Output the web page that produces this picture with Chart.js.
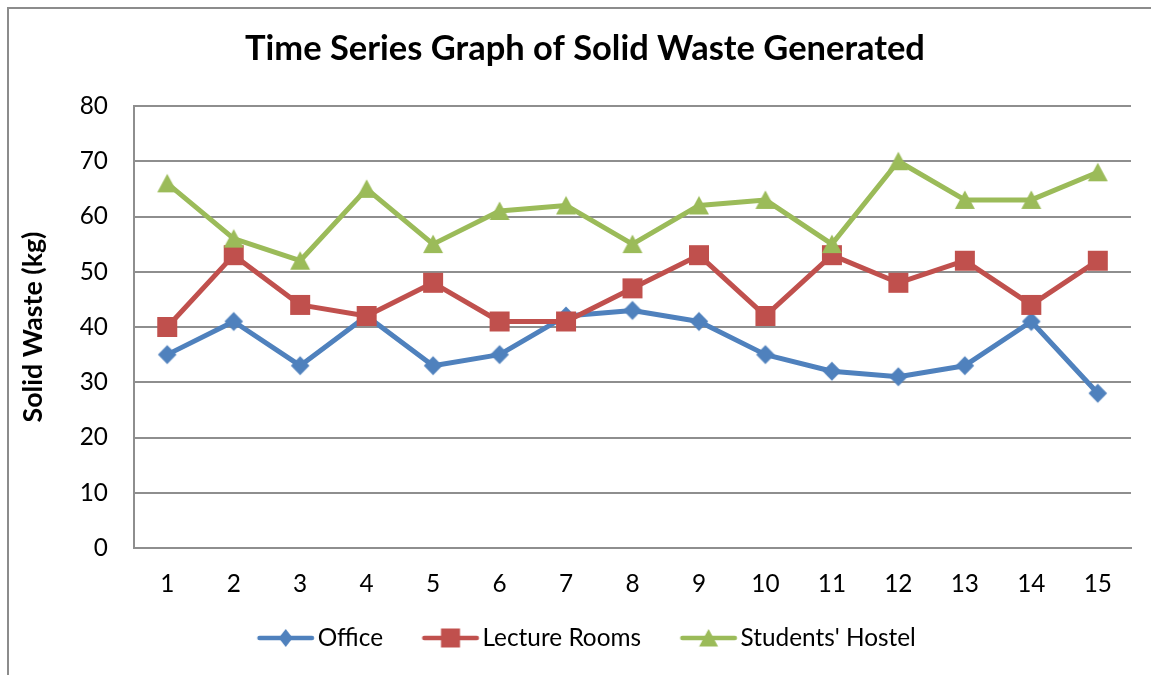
<!DOCTYPE html>
<html><head><meta charset="utf-8">
<script src="https://cdn.jsdelivr.net/npm/chart.js@4.4.1/dist/chart.umd.min.js"></script>
<style>
html,body{margin:0;padding:0;background:#fff;overflow:hidden;width:1151px;height:675px}
#frame{position:absolute;left:7px;top:7px;width:1300px;height:800px;border-left:2px solid #8c8c8c;border-top:2px solid #8c8c8c}
#c{position:absolute;left:0;top:0}
</style></head><body>
<div id="frame"></div>
<canvas id="c" width="1151" height="675"></canvas>
<script>
const categories = ['1','2','3','4','5','6','7','8','9','10','11','12','13','14','15'];
const office = [35,41,33,42,33,35,42,43,41,35,32,31,33,41,28];
const lectureRooms = [40,53,44,42,48,41,41,47,53,42,53,48,52,44,52];
const studentsHostel = [66,56,52,65,55,61,62,55,62,63,55,70,63,63,68];
const seriesNames = ['Office', 'Lecture Rooms', "Students' Hostel"];
const yMin = 0, yMax = 80, yStep = 10;
const titleText = 'Time Series Graph of Solid Waste Generated';
const yTitleText = 'Solid Waste (kg)';

const colors = ['#4F81BD', '#C0504D', '#9BBB59'];
const shapes = ['diamond', 'square', 'triangle'];
const FAMILY = 'Lato';

function fitSize(text, weight, target) {
  const g = document.createElement('canvas').getContext('2d');
  g.font = weight + ' 100px ' + FAMILY;
  return 100 * target / g.measureText(text).width;
}
const titleSize = fitSize(titleText, 'bold', 680);
const yTitleSize = fitSize(yTitleText, 'bold', 191);
const labelSize = fitSize(seriesNames.join(''), 'normal', 399);

function drawShape(g, shape, cx, cy, kx, ky) {
  g.beginPath();
  if (shape === 'diamond') {
    g.moveTo(cx, cy - 9.5 * ky); g.lineTo(cx + 9.3 * kx, cy); g.lineTo(cx, cy + 9.5 * ky); g.lineTo(cx - 9.3 * kx, cy);
  } else if (shape === 'square') {
    g.rect(cx - 10 * kx, cy - 10 * ky, 20 * kx, 20 * ky);
  } else {
    g.moveTo(cx, cy - 9.5 * ky); g.lineTo(cx + 10 * kx, cy + 9 * ky); g.lineTo(cx - 10 * kx, cy + 9 * ky);
  }
  g.closePath(); g.fill();
}
function makeMarker(i) {
  const c = document.createElement('canvas'); c.width = 24; c.height = 24;
  const g = c.getContext('2d'); g.fillStyle = colors[i];
  drawShape(g, shapes[i], 12, 12, 1, 1);
  return c;
}
// legend icon geometry (relative to legend box start x)
const LINE_START = 29, LINE_LEN = 57, TEXT_GAP = 3.5;
const boxW = LINE_START + LINE_LEN + TEXT_GAP - labelSize / 2;
const halfC = Math.ceil(Math.max(boxW / 2 - LINE_START, LINE_START + LINE_LEN - boxW / 2)) + 2;
function makeLegendIcon(i) {
  const c = document.createElement('canvas'); c.width = 2 * halfC; c.height = 24;
  const g = c.getContext('2d');
  const x0 = boxW / 2 - halfC; // canvas left relative to box start
  const ls = LINE_START - x0, le = LINE_START + LINE_LEN - x0;
  g.strokeStyle = colors[i]; g.lineWidth = 4.5; g.lineCap = 'round';
  g.beginPath(); g.moveTo(ls + 2.25, 12); g.lineTo(le - 2.25, 12); g.stroke();
  g.fillStyle = colors[i];
  const kx = shapes[i] === 'diamond' ? 0.75 : 0.95;
  drawShape(g, shapes[i], (ls + le) / 2, 12, kx, 0.95);
  return c;
}
const markers = [0,1,2].map(makeMarker);
const legendIcons = [0,1,2].map(makeLegendIcon);

const seriesData = [office, lectureRooms, studentsHostel];
const datasets = seriesData.map((d, i) => ({
  label: seriesNames[i],
  data: d,
  borderColor: colors[i],
  backgroundColor: colors[i],
  borderWidth: 5,
  borderJoinStyle: 'round',
  tension: 0,
  pointStyle: markers[i],
  pointRadius: 10,
  pointHoverRadius: 10,
  order: 2 - i
}));

const titlePadTop = 49 - 0.6 * titleSize;
const titlePadBottom = 106 - titlePadTop - 1.2 * titleSize;
const legendPad = 10;
const legendTop = 638 - legendPad - labelSize / 2;
const xAxisHeight = legendTop - 548;
const bottomPad = 675 - (legendTop + labelSize + 2 * legendPad);
const gridColor = '#8e8e8e';

const legendShift = {
  id: 'legendShift',
  afterLayout(chart) {
    if (chart.legend) { chart.legend.left -= 13; chart.legend.right -= 13; }
  }
};

new Chart(document.getElementById('c'), {
  type: 'line',
  data: { labels: categories, datasets },
  plugins: [legendShift],
  options: {
    responsive: false,
    animation: false,
    devicePixelRatio: 1,
    layout: { padding: { left: 39, right: 20, top: 0, bottom: bottomPad } },
    plugins: {
      tooltip: { enabled: false },
      title: {
        display: true, text: titleText, color: '#000',
        font: { family: FAMILY, size: titleSize, weight: 'bold', lineHeight: 1.2 },
        padding: { top: titlePadTop, bottom: titlePadBottom }
      },
      legend: {
        position: 'bottom',
        labels: {
          usePointStyle: true,
          pointStyleWidth: boxW,
          padding: legendPad,
          color: '#000',
          font: { family: FAMILY, size: labelSize },
          sort: (a, b) => a.datasetIndex - b.datasetIndex,
          generateLabels: (chart) => {
            const items = Chart.defaults.plugins.legend.labels.generateLabels(chart);
            items.forEach(it => { it.pointStyle = legendIcons[it.datasetIndex]; });
            return items;
          }
        }
      }
    },
    scales: {
      x: {
        offset: true,
        grid: { display: false, drawTicks: false },
        border: { display: true, color: gridColor, width: 2 },
        ticks: { color: '#000', font: { family: FAMILY, size: labelSize }, padding: 22, maxRotation: 0 },
        afterFit: (s) => { s.height = xAxisHeight; }
      },
      y: {
        min: yMin, max: yMax,
        grid: { color: gridColor, lineWidth: 2, drawTicks: false },
        border: { display: true, color: gridColor, width: 2 },
        ticks: { stepSize: yStep, color: '#000', font: { family: FAMILY, size: labelSize }, padding: 26 },
        title: {
          display: true, text: yTitleText, color: '#000',
          font: { family: FAMILY, size: yTitleSize, weight: 'bold', lineHeight: 1.2 },
          padding: { top: -6 - 0.6 * yTitleSize, bottom: 0 }
        },
        afterFit: (s) => { s.width = 95; }
      }
    }
  }
});
</script>
</body></html>
